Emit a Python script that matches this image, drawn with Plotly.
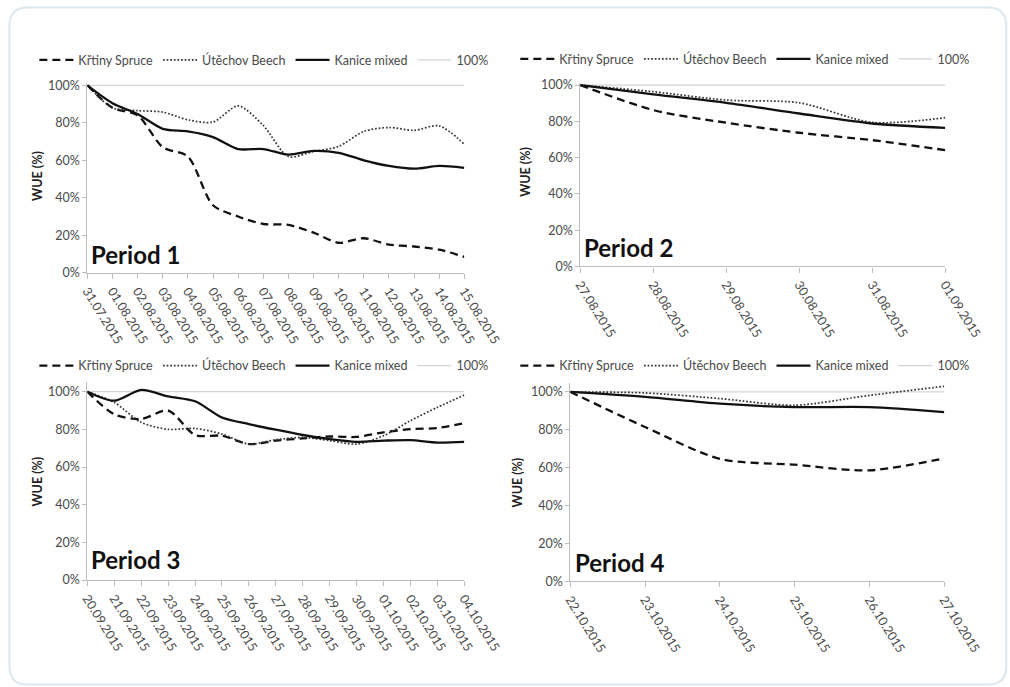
import plotly.graph_objects as go

# ---------------- data ----------------
p1_dates = ["31.07.2015", "01.08.2015", "02.08.2015", "03.08.2015", "04.08.2015", "05.08.2015",
            "06.08.2015", "07.08.2015", "08.08.2015", "09.08.2015", "10.08.2015", "11.08.2015",
            "12.08.2015", "13.08.2015", "14.08.2015", "15.08.2015"]
p1_spruce = [100, 88, 84, 67, 62, 36, 30, 26, 25.5, 21.4, 16, 18.4, 15, 14, 12.3, 8.5]
p1_beech = [100, 88, 86.5, 85.7, 81.6, 80.4, 89, 78.6, 62, 64.7, 67.4, 75.4, 77.5, 76, 78.4, 68.6]
p1_mixed = [100, 90.5, 84.7, 76.8, 75.4, 72.4, 66, 66, 63, 65, 64, 60, 57, 55.5, 57, 56]

p2_dates = ["27.08.2015", "28.08.2015", "29.08.2015", "30.08.2015", "31.08.2015", "01.09.2015"]
p2_spruce = [100, 86.2, 79.2, 73.7, 69.6, 64.1]
p2_beech = [100, 96.3, 91.7, 90.2, 79.4, 82]
p2_mixed = [100, 94.8, 90.2, 84.3, 78.8, 76.4]

p3_dates = ["20.09.2015", "21.09.2015", "22.09.2015", "23.09.2015", "24.09.2015", "25.09.2015",
            "26.09.2015", "27.09.2015", "28.09.2015", "29.09.2015", "30.09.2015", "01.10.2015",
            "02.10.2015", "03.10.2015", "04.10.2015"]
p3_spruce = [100, 88, 85.5, 90, 77, 76.6, 72.2, 74, 75.2, 76.2, 76, 78.4, 80.1, 80.7, 83.3]
p3_beech = [100, 94.3, 83.7, 80, 80.5, 77.5, 72.2, 74.5, 75.7, 74, 72.2, 76.6, 84.6, 91.7, 98.2]
p3_mixed = [100, 95.2, 100.9, 97.5, 94.9, 86.3, 82.8, 79.8, 77, 74.8, 73.4, 74, 74.3, 73, 73.4]

p4_dates = ["22.10.2015", "23.10.2015", "24.10.2015", "25.10.2015", "26.10.2015", "27.10.2015"]
p4_spruce = [100, 81.5, 64.7, 61.6, 58.6, 65]
p4_beech = [100, 99.5, 96.5, 93, 98.2, 103]
p4_mixed = [100, 97.4, 93.8, 92, 92, 89.4]

series_names = ["Křtiny Spruce", "Útěchov Beech", "Kanice mixed", "100%"]
period_labels = ["Period 1", "Period 2", "Period 3", "Period 4"]
y_ticks = [0, 20, 40, 60, 80, 100]
y_tick_labels = ["0%", "20%", "40%", "60%", "80%", "100%"]

panels = [
    (p1_dates, p1_spruce, p1_beech, p1_mixed),
    (p2_dates, p2_spruce, p2_beech, p2_mixed),
    (p3_dates, p3_spruce, p3_beech, p3_mixed),
    (p4_dates, p4_spruce, p4_beech, p4_mixed),
]

# ---------------- layout geometry ----------------
# Positions are given in target-picture pixels and mapped onto the page
# (body keeps its default 8px margin; the photographed page is scaled).
OFF = 8
SX, SY = 0.955, 0.979
W = round(1010 / SX - 2 * OFF)
H = round(687 / SY - 2 * OFF)
FONT = "Lato, 'Open Sans', sans-serif"
TXT = "#4a4a4a"
AX = "#bdbdbd"


def fx(px):
    return (px / SX - OFF) / W


def fy(py):
    return 1 - (py / SY - OFF) / H


# (x_left, x_right, y_of_0%, y_of_100%, ymax)
geom = [
    (87, 464, 274, 87, 101),
    (580, 945, 267.7, 86.7, 101),
    (87, 464, 580.7, 392.7, 105),
    (570, 944, 582, 393, 105),
]
legend_pos = [(34, 62), (515, 61), (34, 367), (515, 367)]
period_pos = [(89, 256), (582, 249), (89, 560), (573, 563)]
ytitle_pos = [(37, 177), (525, 173), (37, 482), (517, 483)]

fig = go.Figure()
layout = dict(
    width=W, height=H,
    margin=dict(l=0, r=0, t=0, b=0),
    paper_bgcolor="white", plot_bgcolor="white",
    font=dict(family=FONT, color=TXT, size=12.5),
    annotations=[], shapes=[],
)

for i, ((dates, spr, bee, mix), (xl, xr, y0, y100, ymax)) in enumerate(zip(panels, geom)):
    n = i + 1
    sfx = "" if n == 1 else str(n)
    xa, ya = "x" + sfx, "y" + sfx
    lg = "legend" + sfx
    ones = [100] * len(dates)
    ppp = (y0 - y100) / 100.0
    ytop = y0 - ymax * ppp

    fig.add_trace(go.Scatter(x=dates, y=ones, name=series_names[3], mode="lines",
                             line=dict(color="#d4d4d4", width=1.2), xaxis=xa, yaxis=ya,
                             legend=lg, legendrank=4, hoverinfo="skip"))
    fig.add_trace(go.Scatter(x=dates, y=spr, name=series_names[0], mode="lines",
                             line=dict(color="#111111", width=2.3, dash="8px,5px", shape="spline", smoothing=0.8),
                             xaxis=xa, yaxis=ya, legend=lg, legendrank=1))
    fig.add_trace(go.Scatter(x=dates, y=bee, name=series_names[1], mode="lines",
                             line=dict(color="#333333", width=1.7, dash="1.7px,1.9px", shape="spline", smoothing=0.8),
                             xaxis=xa, yaxis=ya, legend=lg, legendrank=2))
    fig.add_trace(go.Scatter(x=dates, y=mix, name=series_names[2], mode="lines",
                             line=dict(color="#111111", width=2.3, shape="spline", smoothing=0.8),
                             xaxis=xa, yaxis=ya, legend=lg, legendrank=3))

    layout["xaxis" + sfx] = dict(
        domain=[fx(xl), fx(xr)], anchor=ya, type="category",
        categoryorder="array", categoryarray=dates,
        range=[0, len(dates) - 1],
        showline=True, linecolor=AX, linewidth=1.2,
        ticks="outside", ticklen=5, tickcolor=AX,
        tickangle=58, showgrid=False, zeroline=False,
        tickfont=dict(family=FONT, size=12.5, color=TXT),
    )
    layout["yaxis" + sfx] = dict(
        domain=[fy(y0), fy(ytop)], anchor=xa,
        range=[0, ymax], tickvals=y_ticks, ticktext=y_tick_labels,
        showline=True, linecolor=AX, linewidth=1.2,
        ticks="outside", ticklen=4, tickcolor=AX,
        showgrid=False, zeroline=False,
        tickfont=dict(family=FONT, size=12.5, color=TXT),
    )
    lx, ly = legend_pos[i]
    layout[lg] = dict(
        x=fx(lx), y=fy(ly), xanchor="left", yanchor="middle",
        orientation="h", bgcolor="rgba(0,0,0,0)",
        font=dict(family=FONT, size=12.5, color=TXT),
        traceorder="normal", itemwidth=34,
    )
    px_, py_ = period_pos[i]
    layout["annotations"].append(dict(
        text="<b>%s</b>" % period_labels[i], xref="paper", yref="paper",
        x=fx(px_), y=fy(py_), xanchor="left", yanchor="middle", showarrow=False,
        font=dict(family=FONT, size=24, color="#111111"),
    ))
    tx, ty = ytitle_pos[i]
    layout["annotations"].append(dict(
        text="<b>WUE (%)</b>", xref="paper", yref="paper", textangle=-90,
        x=fx(tx), y=fy(ty), xanchor="center", yanchor="middle", showarrow=False,
        font=dict(family=FONT, size=12.5, color="#222222"),
    ))

# outer rounded frame
X0, X1 = max(fx(5), 1.5 / W), fx(1006)
Y0, Y1 = fy(685), min(fy(6), 1 - 1.5 / H)
r = 19
rx, ry = r / W, r / H
path = (f"M {X0+rx},{Y1} L {X1-rx},{Y1} Q {X1},{Y1} {X1},{Y1-ry} "
        f"L {X1},{Y0+ry} Q {X1},{Y0} {X1-rx},{Y0} L {X0+rx},{Y0} "
        f"Q {X0},{Y0} {X0},{Y0+ry} L {X0},{Y1-ry} Q {X0},{Y1} {X0+rx},{Y1} Z")
layout["shapes"].append(dict(type="path", path=path, xref="paper", yref="paper",
                             line=dict(color="#dce8ef", width=2), layer="below"))

fig.update_layout(**layout)
fig.write_html("out.html")
